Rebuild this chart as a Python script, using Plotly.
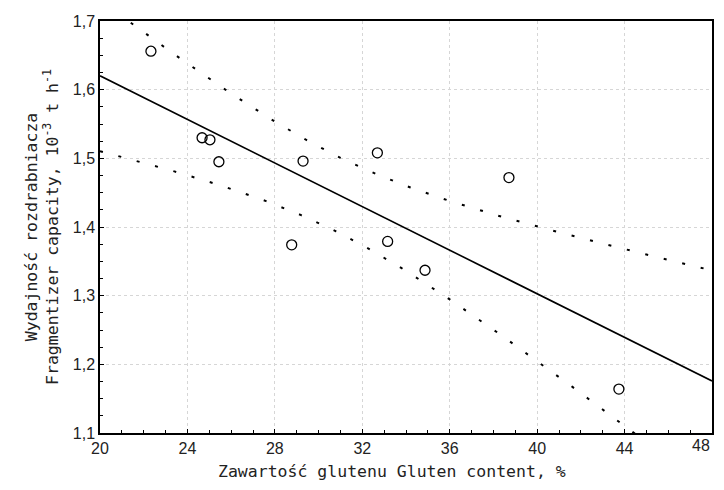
import numpy as np
import plotly.graph_objects as go

# Data
gluten = [22.33, 24.67, 25.03, 25.44, 28.77, 29.29, 32.69, 33.16, 34.87, 38.71, 43.74]
capacity = [1.656, 1.530, 1.527, 1.495, 1.374, 1.496, 1.508, 1.379, 1.337, 1.472, 1.164]
x_ticks = [20, 24, 28, 32, 36, 40, 44, 48]
x_tick_labels = ["20", "24", "28", "32", "36", "40", "44", ""]
last_x_label = "48"
y_ticks = [1.1, 1.2, 1.3, 1.4, 1.5, 1.6, 1.7]
y_tick_labels = ["1,1", "1,2", "1,3", "1,4", "1,5", "1,6", "1,7"]
x_title = "Zawartość glutenu Gluten content, %"
y_title = "Wydajność rozdrabniacza<br>Fragmentizer capacity, 10<sup>-3</sup> t h<sup>-1</sup>"

# Linear regression with 95% confidence band for the mean
x = np.array(gluten)
y = np.array(capacity)
n = len(x)
b, a = np.polyfit(x, y, 1)
res = y - (a + b * x)
s = np.sqrt(np.sum(res ** 2) / (n - 2))
t_crit = 2.262  # t(0.975, df=9)
sxx = np.sum((x - x.mean()) ** 2)
xf = np.linspace(20, 48, 141)
yf = a + b * xf
half = t_crit * s * np.sqrt(1.0 / n + (xf - x.mean()) ** 2 / sxx)

fig = go.Figure()
band_style = dict(color="black", width=2, dash="3px,16px")
fig.add_trace(go.Scatter(x=xf, y=yf + half, mode="lines", line=band_style, hoverinfo="skip"))
fig.add_trace(go.Scatter(x=xf, y=yf - half, mode="lines", line=band_style, hoverinfo="skip"))
fig.add_trace(go.Scatter(x=xf, y=yf, mode="lines", line=dict(color="black", width=1.6)))
fig.add_trace(go.Scatter(
    x=gluten, y=capacity, mode="markers",
    marker=dict(symbol="circle-open", size=10, color="black", line=dict(width=1.3)),
))

tick_font = dict(family="Liberation Sans", size=16, color="#222")
title_font = dict(family="DejaVu Sans Mono", size=16.5, color="#222")

# page body adds an 8px margin, so the figure is 708x474 inside a 724x490 window
fig.update_layout(
    width=708, height=474,
    margin=dict(l=92, r=4, t=13, b=49),
    paper_bgcolor="white", plot_bgcolor="white",
    showlegend=False,
    separators=", ",
    xaxis=dict(
        range=[20, 48], tickmode="array", tickvals=x_ticks, ticktext=x_tick_labels,
        showline=True, linecolor="black", linewidth=1.5, mirror=True,
        ticks="inside", ticklen=4, tickcolor="black",
        minor=dict(tickmode="linear", tick0=20, dtick=1, ticks="inside", ticklen=3,
                   tickcolor="black", showgrid=False),
        showgrid=True, gridcolor="#d6d6d6", griddash="dot", gridwidth=1,
        zeroline=False, tickfont=tick_font, automargin=False,
    ),
    yaxis=dict(
        range=[1.1, 1.7], tickmode="array", tickvals=y_ticks, ticktext=y_tick_labels,
        showline=True, linecolor="black", linewidth=1.5, mirror=True,
        ticks="inside", ticklen=4, tickcolor="black",
        minor=dict(tickmode="linear", tick0=1.1, dtick=0.025, ticks="inside", ticklen=3,
                   tickcolor="black", showgrid=False),
        showgrid=True, gridcolor="#d6d6d6", griddash="dot", gridwidth=1,
        zeroline=False, tickfont=tick_font, automargin=False,
        title=dict(text=y_title, font=title_font, standoff=10),
    ),
    annotations=[
        dict(text=last_x_label, x=48, xref="x", y=0, yref="paper", xanchor="right",
             yanchor="top", yshift=-2, showarrow=False, font=tick_font),
        dict(text=x_title, x=0.477, xref="paper", y=0, yref="paper", xanchor="center",
             yanchor="top", yshift=-27, showarrow=False, font=title_font),
    ],
)

fig.write_html("out.html")
